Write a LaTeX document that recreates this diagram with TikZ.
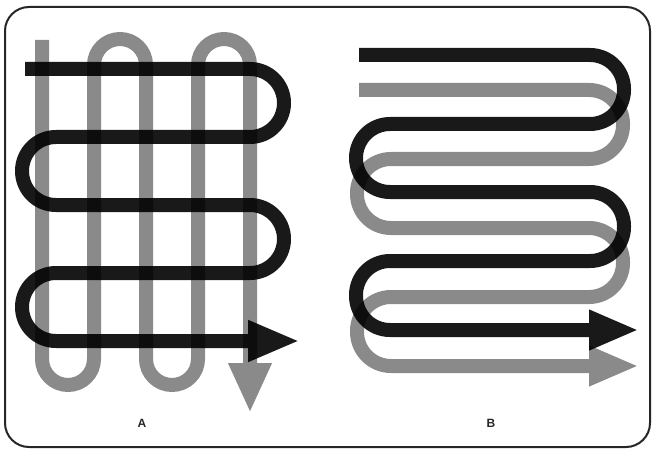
\documentclass[tikz,border=0pt]{standalone}
\usepackage{fontspec}
\setmainfont{Liberation Sans}
\usetikzlibrary{arrows.meta}
\begin{document}
\begin{tikzpicture}[x=1pt,y=-1pt,
  blackpath/.style={line width=14pt, draw=black, rounded corners=#1, line cap=butt, line join=round},
  graypath/.style={line width=14pt, draw=graytone, rounded corners=#1, line cap=butt, line join=round},
  lbl/.style={font=\fontsize{12}{12}\selectfont\bfseries, text=black!85}
]
\definecolor{graytone}{gray}{0.54}
\useasboundingbox (0,0) rectangle (652,449);
\draw[line width=2pt, rounded corners=24pt, draw=black!85] (5,7) rectangle (650,447);

% Panel A: gray vertical serpentine
\draw[graypath=26pt, -{Triangle[length=50pt,width=40pt]}]
  (42,40) -- (42,385) -- (94,385) -- (94,39) -- (146,39) -- (146,385)
  -- (198,385) -- (198,39) -- (250,39) -- (250,413);
% Panel A: black horizontal serpentine
\begin{scope}[transparency group, opacity=0.9]
\draw[blackpath=34pt, -{Triangle[length=52pt,width=38pt]}]
  (25,69) -- (284,69) -- (284,137) -- (22,137) -- (22,205) -- (284,205)
  -- (284,273) -- (22,273) -- (22,341) -- (300,341);
\end{scope}
\node[lbl] (la) at (142,423) {A};

% Panel B: gray serpentine
\draw[graypath=34pt, -{Triangle[length=50pt,width=37pt]}]
  (359,90) -- (623,90) -- (623,159) -- (357,159) -- (357,228) -- (623,228)
  -- (623,297) -- (357,297) -- (357,366) -- (639,366);
% Panel B: black serpentine
\begin{scope}[transparency group, opacity=0.9]
\draw[blackpath=34pt, -{Triangle[length=50pt,width=37pt]}]
  (359,55) -- (624,55) -- (624,124) -- (356,124) -- (356,192) -- (624,192)
  -- (624,261) -- (356,261) -- (356,330) -- (639,330);
\end{scope}
\node[lbl] (lb) at (491,423) {B};
\end{tikzpicture}
\end{document}
